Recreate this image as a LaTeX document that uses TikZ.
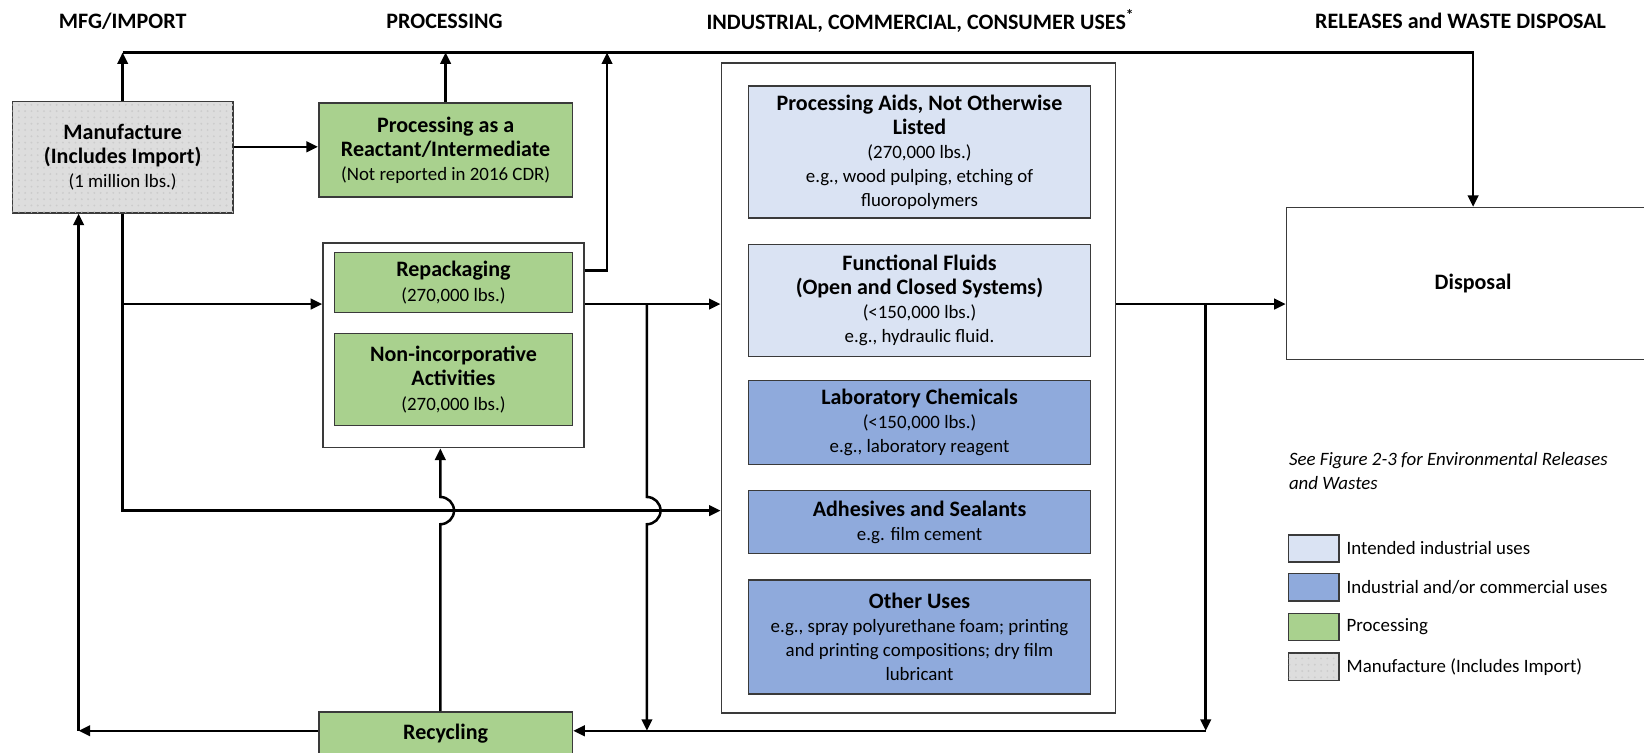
\documentclass[tikz,border=0pt]{standalone}
\usepackage{fontspec}
\setmainfont{Carlito}
\usetikzlibrary{arrows.meta,calc,patterns}
\definecolor{lightblu}{HTML}{DAE3F3}
\definecolor{midblu}{HTML}{8FAADC}
\definecolor{grn}{HTML}{A9D18E}
\definecolor{mfggray}{HTML}{DDDDDD}
\definecolor{bord}{HTML}{3A3A3A}
\newcommand{\bx}[1]{{\fontsize{10.5}{12}\selectfont\bfseries #1}}
\begin{document}
\begin{tikzpicture}[x=0.5pt,y=-0.5pt,
  box/.style={draw=bord,line width=0.75pt,inner sep=0pt,align=center,font=\fontsize{9}{11.5}\selectfont},
  conn/.style={line width=1.2pt,-{Triangle[length=5.5pt,width=5pt]}},
  hdr/.style={font=\fontsize{10.5}{12}\selectfont\bfseries,inner sep=0pt},
  mfgfill/.style={fill=mfggray,postaction={pattern=dots,pattern color=black!20}},
  lgtext/.style={anchor=west,inner sep=0pt,font=\fontsize{9}{11.5}\selectfont}]
\clip (0,0) rectangle (1568,718);
\fill[white] (0,0) rectangle (1568,718);

% headers
\node[hdr] (h1) at (117,20) {MFG/IMPORT};
\node[hdr] (h2) at (424,20) {PROCESSING};
\node[hdr] (h3) at (878,20) {INDUSTRIAL, COMMERCIAL, CONSUMER USES\textsuperscript{*}};
\node[hdr] (h4) at (1393,20) {RELEASES and WASTE DISPOSAL};

% junction coordinates
\coordinate (ytop) at (0,50);
\coordinate (ymr) at (0,140);
\coordinate (yrep) at (0,258);
\coordinate (yflow) at (0,290);
\coordinate (yadh) at (0,487);
\coordinate (yrec) at (0,697);
\coordinate (x75) at (75,0);
\coordinate (xr) at (579,0);
\coordinate (xb1) at (617,0);
\coordinate (xb2) at (1150,0);
\coordinate (xrc) at (420,0);

% boxes
\node[box,mfgfill,minimum width=105pt,minimum height=53pt] (mfg) at (117,150)
  {\bx{Manufacture}\\\bx{(Includes Import)}\\(1 million lbs.)};
\node[box,fill=grn,minimum width=121pt,minimum height=45pt] (react) at (425,143)
  {\bx{Processing as a}\\\bx{Reactant/Intermediate}\\(Not reported in 2016 CDR)};
\node[box,fill=white,minimum width=124.5pt,minimum height=97.5pt] (pcont) at (432.5,329.5) {};
\node[box,fill=grn,minimum width=113.5pt,minimum height=28.5pt] (repack) at (432.5,269.5)
  {\bx{Repackaging}\\(270,000 lbs.)};
\node[box,fill=grn,minimum width=113.5pt,minimum height=44pt] (noninc) at (432.5,362)
  {\bx{Non-incorporative}\\\bx{Activities}\\(270,000 lbs.)};
\node[box,fill=grn,minimum width=121pt,minimum height=21pt] (rec) at (425,700)
  {\bx{Recycling}};

\node[box,fill=white,minimum width=188pt,minimum height=310pt] (ucont) at (876,370) {};
\node[box,fill=lightblu,minimum width=163pt,minimum height=63pt] (pa) at (877,145)
  {\bx{Processing Aids, Not Otherwise}\\\bx{Listed}\\(270,000 lbs.)\\e.g., wood pulping, etching of\\fluoropolymers};
\node[box,fill=lightblu,minimum width=163pt,minimum height=53.5pt] (ff) at (877,286.5)
  {\bx{Functional Fluids}\\\bx{(Open and Closed Systems)}\\(<150,000 lbs.)\\e.g., hydraulic fluid.};
\node[box,fill=midblu,minimum width=163pt,minimum height=40pt] (lc) at (877,403)
  {\bx{Laboratory Chemicals}\\(<150,000 lbs.)\\e.g., laboratory reagent};
\node[box,fill=midblu,minimum width=163pt,minimum height=30pt] (as) at (877,498)
  {\bx{Adhesives and Sealants}\\e.g. film cement};
\node[box,fill=midblu,minimum width=163pt,minimum height=54.5pt] (ou) at (877,607.5)
  {\bx{Other Uses}\\e.g., spray polyurethane foam; printing\\and printing compositions; dry film\\lubricant};

\node[box,fill=white,minimum width=178pt,minimum height=72.5pt] (disp) at (1405,270.5)
  {\bx{Disposal}};

% legend
\node[anchor=north west,align=left,inner sep=0pt,font=\fontsize{9}{11.5}\selectfont\itshape] (note) at (1229,431)
  {See Figure 2-3 for Environmental Releases\\and Wastes};
\node[box,fill=lightblu,minimum width=24pt,minimum height=13pt] (lg1) at (1253,523) {};
\node[box,fill=midblu,minimum width=24pt,minimum height=13pt] (lg2) at (1253,560) {};
\node[box,fill=grn,minimum width=24pt,minimum height=13pt] (lg3) at (1253,598) {};
\node[box,mfgfill,minimum width=24pt,minimum height=13pt] (lg4) at (1253,636) {};
\node[lgtext] (lt1) at (1284,523) {Intended industrial uses};
\node[lgtext] (lt2) at (1284,560) {Industrial and/or commercial uses};
\node[lgtext] (lt3) at (1284,598) {Processing};
\node[lgtext] (lt4) at (1284,636) {Manufacture (Includes Import)};

% connectors
\draw[conn] (mfg.north |- ytop) -- (disp.north |- ytop) -- (disp.north);
\draw[conn] (mfg.north) -- (mfg.north |- ytop);
\draw[conn] (react.north) -- (react.north |- ytop);
\draw[conn] (mfg.east |- ymr) -- (react.west |- ymr);
\draw[conn] (pcont.east |- yrep) -- (xr |- yrep) -- (xr |- ytop);
\draw[conn] (pcont.east |- yflow) -- (ucont.west |- yflow);
\draw[conn] (xb1 |- yflow) -- ($(xb1 |- yadh)+(0,-13)$)
  arc[start angle=90,end angle=-90,radius=6.5pt] -- (xb1 |- yrec);
\draw[conn] (mfg.south) -- (mfg.south |- yadh) -- (ucont.west |- yadh);
\draw[conn] (mfg.south |- yflow) -- (pcont.west |- yflow);
\draw[conn] (ucont.east |- yflow) -- (disp.west |- yflow);
\draw[conn] (xb2 |- yflow) -- (xb2 |- yrec);
\draw[conn] (xb2 |- yrec) -- (rec.east |- yrec);
\draw[conn] (rec.west |- yrec) -- (x75 |- yrec);
\draw[conn] (x75 |- yrec) -- (x75 |- mfg.south);
\draw[conn] (xrc |- rec.north) -- ($(xrc |- yadh)+(0,13)$)
  arc[start angle=-90,end angle=90,radius=6.5pt] -- (xrc |- pcont.south);
\end{tikzpicture}
\end{document}
